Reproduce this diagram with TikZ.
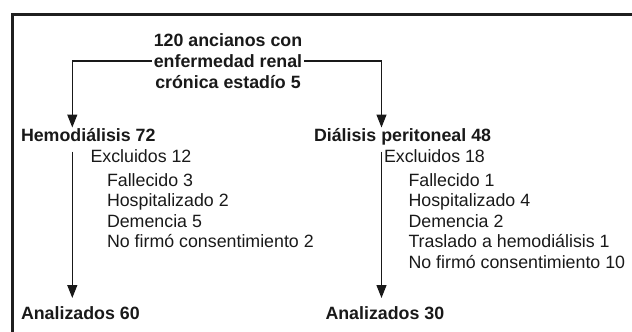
\documentclass[tikz,border=0pt]{standalone}
\usepackage{fontspec}
\setmainfont{Liberation Sans}
\usetikzlibrary{arrows.meta}
\begin{document}
\begin{tikzpicture}[x=1pt,y=-1pt,
  txt/.style={font=\fontsize{17.8}{20.7}\selectfont, inner sep=0pt, outer sep=0pt, anchor=base west, text=black!90},
  btxt/.style={txt, font=\fontsize{17.8}{20.7}\selectfont\bfseries},
  ttl/.style={btxt, anchor=base, outer sep=2pt},
  conn/.style={line width=1.3pt, draw=black!90, -{Triangle[length=13pt,width=10pt]}},
  frameline/.style={line width=2.5pt, draw=black!88}]
\useasboundingbox (0,0) rectangle (632,332);
\draw[frameline] (12.5,332) -- (12.5,14.5) -- (632,14.5);
% title
\node[ttl] (t1) at (228,46.7) {120 ancianos con};
\node[ttl] (t2) at (228,67.5) {enfermedad renal};
\node[ttl] (t3) at (228,88.3) {crónica estadío 5};
% branch heads
\node[btxt] (hd) at (21,141) {Hemodiálisis 72};
\node[btxt] (dp) at (314,141) {Diálisis peritoneal 48};
\coordinate (tipL) at (72.3,127.5);
\coordinate (tipR) at (381.5,127.5);
\draw[conn] (t2.west) -| (tipL);
\draw[conn] (t2.east) -| (tipR);
% exclusions
\node[txt] (exL) at (90.5,162.5) {Excluidos 12};
\node[txt] (exR) at (384,162.5) {Excluidos 18};
\foreach \t [count=\i] in {Fallecido 3, Hospitalizado 2, Demencia 5, No firmó consentimiento 2}
  \node[txt] (iL\i) at (107,{186+(\i-1)*20.6}) {\t};
\foreach \t [count=\i] in {Fallecido 1, Hospitalizado 4, Demencia 2, Traslado a hemodiálisis 1, No firmó consentimiento 10}
  \node[txt] (iR\i) at (408.5,{186+(\i-1)*20.6}) {\t};
% analysed
\node[btxt] (anL) at (21,319.5) {Analizados 60};
\node[btxt] (anR) at (325.5,319.5) {Analizados 30};
\coordinate (sL) at (72.3,151.5);
\coordinate (sR) at (381.5,151.5);
\coordinate (eL) at (72.3,298);
\coordinate (eR) at (381.5,298);
\draw[conn] (sL) -- (eL);
\draw[conn] (sR) -- (eR);
\end{tikzpicture}
\end{document}
